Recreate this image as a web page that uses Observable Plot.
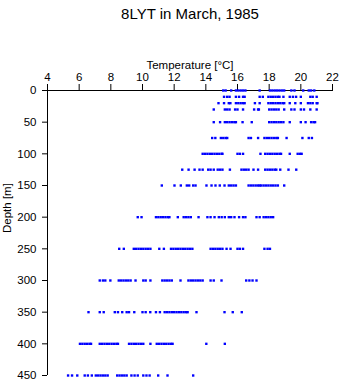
<!DOCTYPE html>
<html>
<head>
<meta charset="utf-8">
<script src="https://cdn.jsdelivr.net/npm/d3@7"></script>
<script src="https://cdn.jsdelivr.net/npm/@observablehq/plot@0.6"></script>
<style>
  html, body { margin: 0; padding: 0; background: #fff; }
  svg { font-family: "Liberation Sans", Arial, sans-serif; }
</style>
</head>
<body>
<div id="chart"></div>
<script>
const title = "8LYT in March, 1985";
const xLabel = "Temperature [°C]";
const yLabel = "Depth [m]";
const xTicks = [4, 6, 8, 10, 12, 14, 16, 18, 20, 22];
const yTicks = [0, 50, 100, 150, 200, 250, 300, 350, 400, 450];

const depths = [0, 10, 20, 30, 50, 75, 100, 125, 150, 200, 250, 300, 350, 400, 450];

const t0   = [15.1, 15.25, 15.6, 15.9, 16.05, 16.2, 16.35, 16.5, 17.4, 18.05, 18.2, 18.35, 18.5, 18.65, 18.8, 18.95, 19.4, 19.6, 20.15, 20.5, 20.65, 20.85];
const t10  = [15.15, 15.35, 15.5, 15.9, 16.1, 16.35, 16.45, 17.4, 17.6, 17.95, 18.1, 18.25, 18.4, 18.55, 18.65, 18.9, 19.3, 19.5, 19.7, 20.0, 20.6, 20.75, 21.0];
const t20  = [14.8, 15.15, 15.45, 15.55, 15.9, 16.05, 16.2, 16.35, 16.45, 17.1, 17.4, 17.95, 18.1, 18.25, 18.4, 18.55, 18.7, 18.85, 18.95, 19.3, 19.65, 20.0, 20.45, 20.6, 20.75, 21.0, 21.05];
const t30  = [14.5, 15.2, 15.35, 15.5, 15.85, 16.0, 16.35, 17.05, 17.3, 17.35, 18.0, 18.15, 18.3, 18.45, 18.6, 18.95, 19.4, 19.6, 20.0, 20.2, 20.6, 21.0];
const t50  = [14.5, 14.9, 15.2, 15.35, 15.5, 15.65, 15.8, 15.9, 16.32, 16.9, 18.0, 18.15, 18.3, 18.45, 18.6, 18.75, 18.9, 19.3, 20.0, 20.3, 20.65, 20.8, 20.9];
const t75  = [14.4, 14.6, 14.95, 15.1, 15.25, 15.35, 16.7, 16.85, 17.3, 17.7, 17.85, 18.0, 18.15, 18.3, 18.45, 18.55, 19.1, 20.1, 20.5, 20.7];
const t100 = [13.8, 13.95, 14.1, 14.25, 14.4, 14.55, 14.7, 14.85, 15.0, 15.05, 16.0, 16.15, 16.35, 17.45, 17.75, 17.9, 18.05, 18.2, 18.35, 18.5, 18.65, 18.75, 19.3, 19.8, 19.95, 20.05];
const t125 = [12.51, 12.91, 13.29, 13.6, 13.8, 14.15, 14.3, 14.5, 14.75, 14.9, 15.05, 15.52, 16.25, 16.4, 16.55, 16.7, 17.01, 17.3, 17.75, 17.9, 18.05, 18.2, 18.35, 18.45, 18.7, 19.22, 19.71];
const t150 = [11.22, 12.02, 12.42, 12.8, 12.95, 13.2, 13.35, 14.04, 14.36, 14.61, 14.88, 15.18, 15.45, 15.6, 15.75, 15.9, 16.7, 16.85, 17.0, 17.15, 17.3, 17.4, 17.5, 17.65, 17.8, 17.95, 18.1, 18.25, 18.4, 18.55, 18.95];
const t200 = [9.7, 9.94, 10.85, 11.0, 11.15, 11.3, 11.45, 11.6, 11.7, 12.23, 12.6, 12.75, 12.9, 13.05, 13.54, 14.1, 14.3, 14.55, 14.82, 15.0, 15.2, 15.45, 15.6, 15.81, 16.1, 16.35, 16.5, 17.2, 17.4, 17.65, 17.8, 17.95, 18.1, 18.25];
const t250 = [8.53, 8.82, 9.45, 9.6, 9.75, 9.9, 10.05, 10.2, 10.35, 10.5, 11.06, 11.35, 11.8, 11.95, 12.1, 12.25, 12.4, 12.55, 12.7, 12.85, 13.0, 13.15, 14.3, 14.45, 14.6, 14.75, 14.9, 15.05, 15.31, 15.56, 16.0, 16.15, 16.35, 17.7, 17.9, 18.05];
const t300 = [7.3, 7.5, 7.65, 7.97, 8.5, 8.65, 8.8, 8.95, 9.1, 9.25, 9.56, 10.05, 10.2, 10.5, 11.25, 11.4, 11.55, 11.7, 11.85, 12.4, 12.9, 13.05, 13.2, 13.35, 13.5, 13.65, 13.8, 14.3, 14.5, 14.99, 16.55, 16.75, 16.95, 17.2];
const t350 = [6.59, 7.3, 7.55, 8.25, 8.45, 8.72, 9.0, 9.15, 9.48, 10.0, 10.2, 10.49, 10.85, 11.1, 11.4, 11.55, 11.7, 11.85, 12.0, 12.15, 12.3, 12.45, 12.6, 12.75, 12.85, 13.41, 15.18, 15.7, 16.27];
const t400 = [6.05, 6.2, 6.35, 6.5, 6.65, 6.75, 7.3, 7.45, 7.6, 7.75, 7.9, 8.05, 8.2, 8.35, 8.45, 9.15, 9.3, 9.45, 9.6, 9.75, 9.9, 10.05, 10.5, 10.9, 11.05, 11.2, 11.35, 11.5, 11.65, 11.8, 11.9, 14.03, 15.2];
const t450 = [5.3, 5.55, 5.88, 6.35, 6.55, 6.8, 7.05, 7.2, 7.35, 7.5, 7.65, 7.8, 8.4, 8.55, 8.7, 8.85, 9.0, 9.3, 9.5, 9.7, 10.05, 10.25, 10.45, 10.99, 11.58, 13.2];

const temps = [t0, t10, t20, t30, t50, t75, t100, t125, t150, t200, t250, t300, t350, t400, t450];
const data = depths.flatMap((d, i) => temps[i].map(t => ({depth: d, temp: t})));

const chart = Plot.plot({
  width: 341,
  height: 384,
  marginTop: 90,
  marginLeft: 47,
  marginRight: 9,
  marginBottom: 9,
  style: {fontFamily: "'Liberation Sans', Arial, sans-serif", fontSize: "11px", color: "black", background: "white"},
  x: {domain: [4, 22]},
  y: {domain: [0, 450], reverse: true},
  marks: [
    Plot.axisX({anchor: "top", ticks: xTicks, tickSize: 7, tickPadding: 3, label: null, fontSize: 11.5}),
    Plot.axisY({anchor: "left", ticks: yTicks, tickSize: 5, tickPadding: 6, label: null, fontSize: 11.5}),
    Plot.ruleY([0], {stroke: "black"}),
    Plot.ruleX([4], {stroke: "black"}),
    Plot.dot(data, {x: "temp", y: "depth", symbol: "square", r: 1.35, fill: "#0000ff", stroke: null}),
    Plot.text([title], {frameAnchor: "top", dy: -82, fontSize: 15, fill: "black"}),
    Plot.text([xLabel], {frameAnchor: "top", dy: -30, fontSize: 11.5, fill: "black"}),
    Plot.text([yLabel], {frameAnchor: "left", dx: -40, rotate: -90, fontSize: 11.5, fill: "black"})
  ]
});
document.getElementById("chart").appendChild(chart);
</script>
</body>
</html>
